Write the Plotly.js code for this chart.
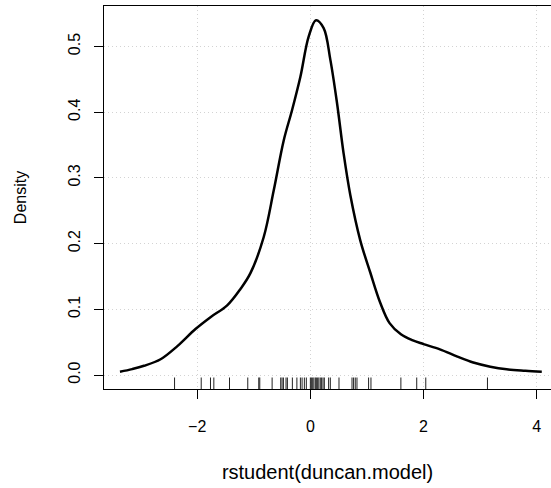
<!DOCTYPE html>
<html>
<head>
<meta charset="utf-8">
<script src="https://cdn.plot.ly/plotly-3.0.1.min.js"></script>
<style>html,body{margin:0;padding:0;background:#fff;}#chart{width:551px;height:488px;}</style>
</head>
<body>
<div id="chart"></div>
<script>
// Density curve of rstudent(duncan.model)
var densityX = [-3.365, -3.15, -2.94, -2.647, -2.35, -2.03, -1.765, -1.47, -1.235, -1.059, -0.824, -0.647, -0.471, -0.324, -0.176, -0.03, 0.1, 0.235, 0.353, 0.471, 0.588, 0.706, 0.882, 1.059, 1.235, 1.4, 1.6, 1.8, 2.0, 2.29, 2.6, 2.88, 3.18, 3.47, 3.8, 4.09];
var densityY = [0.005, 0.009, 0.014, 0.024, 0.044, 0.070, 0.088, 0.106, 0.131, 0.155, 0.210, 0.281, 0.357, 0.403, 0.454, 0.515, 0.540, 0.528, 0.480, 0.414, 0.337, 0.274, 0.205, 0.156, 0.110, 0.079, 0.062, 0.053, 0.047, 0.039, 0.028, 0.019, 0.0127, 0.0087, 0.0065, 0.005];
// Rug: studentized residuals (45 observations)
var rugValues = [-2.40, -1.929, -1.765, -1.706, -1.429, -1.106, -0.912, -0.894, -0.676, -0.524, -0.50, -0.476, -0.43, -0.406,
  -0.318, -0.238, -0.176, -0.146, -0.106, -0.071, 0.0, 0.018, 0.041, 0.062, 0.088, 0.106, 0.129, 0.150, 0.176, 0.199, 0.224, 0.247,
  0.323, 0.353, 0.506, 0.736, 0.764, 0.794, 0.824, 1.029, 1.071, 1.60, 1.88, 2.04, 3.13];
var xTicks = [-2, 0, 2, 4];
var yTicks = [0, 0.1, 0.2, 0.3, 0.4, 0.5];
var yTickLabels = ['0.0', '0.1', '0.2', '0.3', '0.4', '0.5'];
var xLabel = 'rstudent(duncan.model)';
var yLabel = 'Density';

var rugX = [], rugY = [];
rugValues.forEach(function (v) { rugX.push(v, v, null); rugY.push(0, 0.03, null); });

var font = '"Liberation Sans", Arial, Helvetica, sans-serif';

var traces = [
  { x: densityX, y: densityY, type: 'scatter', mode: 'lines',
    line: { color: '#000', width: 2.5, shape: 'spline', smoothing: 1 }, hoverinfo: 'x+y' },
  { x: rugX, y: rugY, yaxis: 'y2', type: 'scatter', mode: 'lines',
    line: { color: '#222', width: 1 }, hoverinfo: 'skip' }
];

var layout = {
  width: 551, height: 488,
  margin: { l: 104, r: 0, t: 6, b: 99, pad: 0 },
  paper_bgcolor: '#fff', plot_bgcolor: '#fff',
  showlegend: false,
  font: { family: font, size: 16, color: '#000' },
  xaxis: {
    range: [-3.647, 4.253], tickvals: xTicks, ticks: 'outside', ticklen: 9, tickwidth: 1, tickcolor: '#000',
    showline: true, linecolor: '#000', linewidth: 1, mirror: true,
    showgrid: true, gridcolor: '#d3d3d3', griddash: '1px,3px', gridwidth: 1, zeroline: false,
    tickfont: { family: font, size: 16, color: '#000' }, ticklabelstandoff: 14,
    title: { text: xLabel, font: { family: font, size: 20, color: '#000' }, standoff: 30 },
    automargin: false
  },
  yaxis: {
    range: [-0.0213, 0.5616], tickvals: yTicks, ticktext: yTickLabels, tickangle: -90,
    ticks: 'outside', ticklen: 9, tickwidth: 1, tickcolor: '#000',
    showline: true, linecolor: '#000', linewidth: 1, mirror: false,
    showgrid: true, gridcolor: '#d3d3d3', griddash: '1px,3px', gridwidth: 1, zeroline: false,
    tickfont: { family: font, size: 16, color: '#000' }, ticklabelstandoff: 8,
    title: { text: yLabel, font: { family: font, size: 16, color: '#000' }, standoff: 34 },
    automargin: false
  },
  yaxis2: { overlaying: 'y', range: [0, 1], visible: false, fixedrange: true }
};

Plotly.newPlot('chart', traces, layout, { displayModeBar: false, staticPlot: true });
</script>
</body>
</html>
